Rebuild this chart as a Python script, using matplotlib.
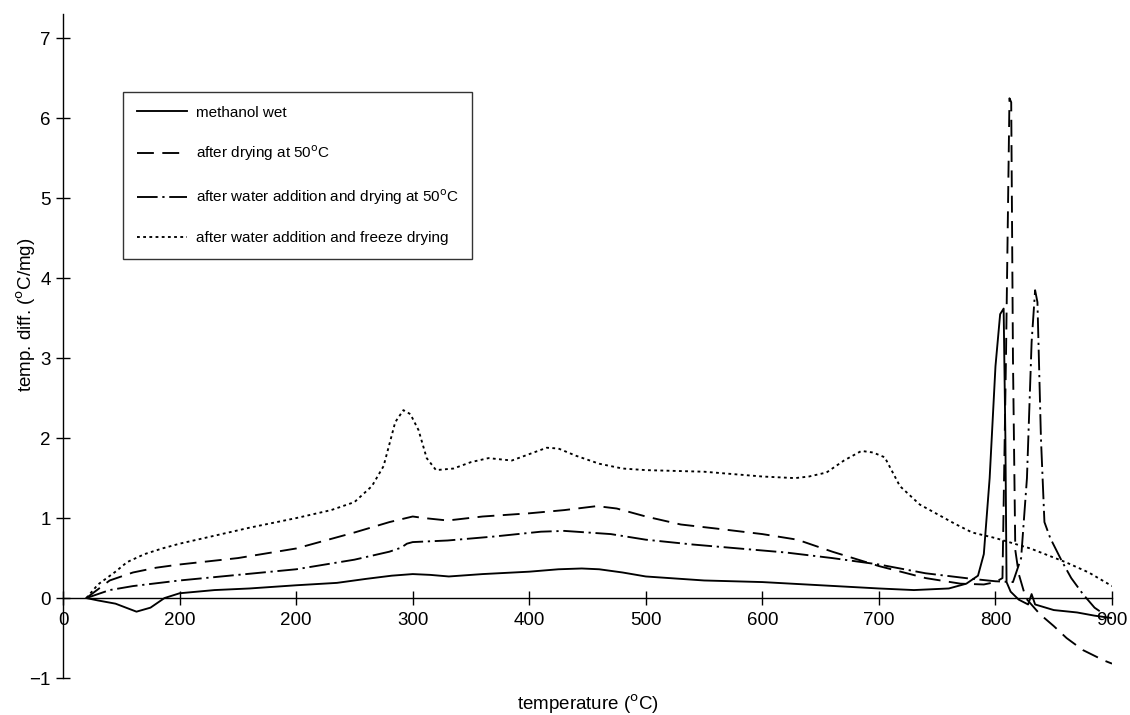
import matplotlib.pyplot as plt

plt.rcParams["font.family"] = ["Liberation Sans", "DejaVu Sans"]

# methanol wet
t_mw = [20, 30, 45, 63, 75, 87, 100, 130, 160, 200, 235, 260, 282, 300, 315, 331, 360, 400, 425, 445,
        460, 480, 500, 550, 600, 650, 700, 730, 760, 775, 785, 790, 795, 800, 804, 807, 808.5, 809.5,
        813, 820, 828, 831, 834, 850, 870, 885, 900]
d_mw = [0, -0.03, -0.07, -0.17, -0.12, 0, 0.06, 0.1, 0.12, 0.16, 0.19, 0.24, 0.28, 0.3, 0.29, 0.27, 0.3,
        0.33, 0.36, 0.37, 0.36, 0.32, 0.27, 0.22, 0.2, 0.16, 0.12, 0.1, 0.12, 0.18, 0.28, 0.55, 1.5, 2.9,
        3.55, 3.62, 2.0, 0.2, 0.08, -0.02, -0.08, 0.05, -0.08, -0.15, -0.18, -0.22, -0.25]

# after drying at 50 C
t_dr = [20, 40, 60, 80, 100, 150, 200, 250, 280, 300, 310, 330, 360, 400, 430, 458, 475, 500, 530, 560,
        600, 630, 660, 700, 740, 770, 790, 800, 806, 809, 812, 813.5, 815, 817, 820, 826, 838, 850, 861,
        875, 893, 900]
d_dr = [0, 0.22, 0.32, 0.38, 0.42, 0.5, 0.62, 0.82, 0.95, 1.02, 1.0, 0.97, 1.02, 1.06, 1.1, 1.15, 1.12,
        1.02, 0.92, 0.87, 0.8, 0.73, 0.58, 0.4, 0.25, 0.18, 0.17, 0.2, 0.25, 3.0, 6.25, 6.2, 3.0, 0.6,
        0.3, 0.0, -0.2, -0.35, -0.5, -0.65, -0.78, -0.82]

# after water addition and drying at 50 C
t_wd = [20, 40, 60, 100, 150, 200, 250, 280, 290, 295, 300, 330, 370, 410, 430, 450, 470, 500, 540, 580,
        620, 660, 700, 740, 780, 800, 815, 822, 827, 831, 834, 836, 839, 842, 847, 857, 865, 875, 885,
        893]
d_wd = [0, 0.1, 0.15, 0.22, 0.29, 0.36, 0.48, 0.58, 0.63, 0.68, 0.7, 0.72, 0.77, 0.83, 0.84, 0.82, 0.8,
        0.73, 0.67, 0.62, 0.57, 0.5, 0.42, 0.31, 0.24, 0.21, 0.2, 0.5, 1.5, 3.2, 3.85, 3.7, 2.0, 0.95,
        0.75, 0.46, 0.25, 0.05, -0.12, -0.2]

# after water addition and freeze drying
t_fd = [20, 30, 45, 55, 70, 85, 100, 130, 160, 200, 230, 250, 265, 275, 285, 292, 298, 305, 312, 320,
        335, 350, 365, 385, 400, 415, 425, 440, 460, 480, 500, 550, 600, 628, 640, 655, 670, 685, 695,
        705, 718, 735, 750, 765, 780, 800, 830, 860, 880, 900]
d_fd = [0, 0.17, 0.33, 0.45, 0.55, 0.62, 0.68, 0.78, 0.88, 1.0, 1.1, 1.2, 1.4, 1.65, 2.2, 2.35, 2.3,
        2.1, 1.75, 1.6, 1.62, 1.7, 1.75, 1.72, 1.8, 1.88, 1.87, 1.78, 1.68, 1.62, 1.6, 1.58, 1.52, 1.5,
        1.52, 1.57, 1.72, 1.84, 1.82, 1.76, 1.4, 1.17, 1.05, 0.93, 0.82, 0.75, 0.62, 0.45, 0.32, 0.15]

names = ["methanol wet",
         "after drying at 50$^{\\rm o}$C",
         "after water addition and drying at 50$^{\\rm o}$C",
         "after water addition and freeze drying"]

x_ticks = [0, 100, 200, 300, 400, 500, 600, 700, 800, 900]
x_labels = ["0", "200", "200", "300", "400", "500", "600", "700", "800", "900"]
y_ticks = [-1, 0, 1, 2, 3, 4, 5, 6, 7]

fig = plt.figure(figsize=(11.3, 7.15), dpi=100)
ax = fig.add_axes([0.0558, 0.0517, 0.9283, 0.9283])

lw = 1.35
ax.plot(t_mw, d_mw, color="black", lw=lw, ls="-", label=names[0])
ax.plot(t_dr, d_dr, color="black", lw=lw, ls=(0, (9, 4.5)), label=names[1])
ax.plot(t_wd, d_wd, color="black", lw=lw, ls=(0, (11, 2.5, 1.2, 2.5)), label=names[2])
ax.plot(t_fd, d_fd, color="black", lw=lw, ls=(0, (1.5, 1.8)), label=names[3])

ax.set_xlim(0, 900)
ax.set_ylim(-1, 7.3)

for side in ["top", "right"]:
    ax.spines[side].set_visible(False)
ax.spines["bottom"].set_position(("data", 0))
ax.spines["left"].set_bounds(-1, 7.3)
for s in ["left", "bottom"]:
    ax.spines[s].set_linewidth(1.0)

ax.set_xticks(x_ticks)
ax.set_xticklabels(x_labels)
ax.set_yticks(y_ticks)
ax.tick_params(axis="both", direction="inout", length=10, width=1.0, labelsize=13.5)
ax.tick_params(axis="x", pad=5)
ax.tick_params(axis="y", pad=4)

ax.set_xlabel("temperature ($^{\\rm o}$C)", fontsize=13.5)
ax.xaxis.set_label_coords(0.5, -0.022)
ax.set_ylabel("temp. diff. ($^{\\rm o}$C/mg)", fontsize=13.5)
ax.yaxis.set_label_coords(-0.024, 0.547)

leg = ax.legend(loc="upper left", bbox_to_anchor=(0.0572, 0.883), borderaxespad=0,
                fontsize=11.0, frameon=True, fancybox=False, edgecolor="black",
                handlelength=3.3, handletextpad=0.55, labelspacing=1.57, borderpad=0.9)
leg.get_frame().set_linewidth(1.0)

fig.savefig("out.png", dpi=100)
